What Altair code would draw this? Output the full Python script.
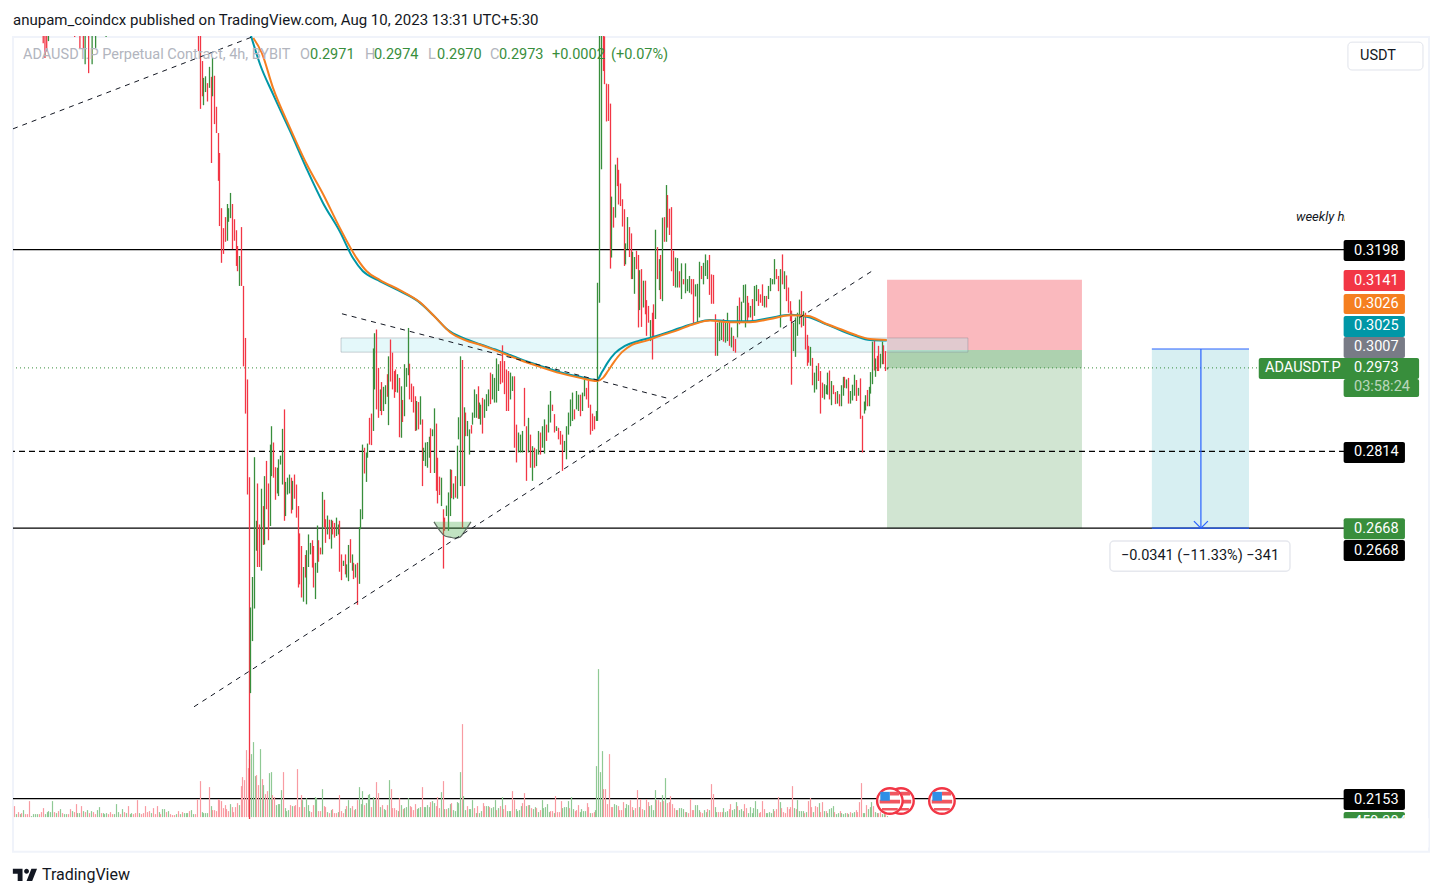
import altair as alt
import numpy as np
import pandas as pd

FONT = "Roboto"
RED, GREEN, TEAL, ORANGE = "#f23645", "#388e3c", "#0097a7", "#f57f20"
RED_V, GREEN_V = "#f89ba2", "#8fc994"
INK, MUTED = "#131722", "#b2b5be"
TICK = 1e-4
Y_DOMAIN = [0.21144, 0.36047]
X_DOMAIN = [-13.07, 114.03]
PX_PER_DAY = 10.48

# axis
price_ticks = [0.35, 0.34, 0.33, 0.32, 0.31, 0.30, 0.29, 0.28, 0.27, 0.26, 0.25, 0.24, 0.23, 0.22]
date_ticks = [0, 11, 30, 46, 61, 74, 92, 102, 112]
date_labels = ["Jun", "12", "Jul", "17", "Aug", "14", "Sep", "11", "21"]

# candles: (high, low, 1 up / 0 down) in ticks of 0.0001
early_no = [17, 18, 19, 20, 35, 38, 40, 41, 43, 45, 47, 53]
early_low = [3591, 3563, 3575, 3595, 3603, 3582, 3580, 3551, 3534, 3551, 3582, 3603]
early_up = [0, 0, 0, 1, 0, 0, 0, 1, 0, 1, 1, 1]

candles_top = [
(3620,3576,0),(3650,3466,0),(3557,3490,0),(3525,3473,1),(3528,3498,1),(3515,3480,0),(3546,3506,1),(3527,3363,0),
(3563,3490,1),(3529,3437,0),(3470,3420,0),(3420,3329,0),(3382,3243,0),(3277,3173,0),(3239,3190,0),(3260,3213,0),
(3285,3215,1),(3277,3251,1),(3306,3258,1),(3285,3199,0),(3256,3215,0),(3235,3167,0),(3205,3157,0),(3186,3129,1),(3241,3129,0),
]
candles_a = [
(3129,2976,0),(3030,2886,0),(2951,2732,0),(2765,2105,0),(2517,2354,1),(2575,2453,1),(2803,2515,1),(2682,2625,1),
(2753,2594,0),(2675,2594,0),(2743,2587,1),(2710,2636,0),(2767,2637,1),(2796,2704,0),(2753,2645,0),(2827,2672,1),
(2862,2767,1),(2831,2764,0),(2784,2722,0),(2783,2734,1),(2799,2729,1),(2806,2789,1),(2857,2751,1),(2894,2682,0),
(2756,2691,1),(2764,2732,1),(2770,2734,1),(2764,2696,0),(2758,2703,1),(2770,2724,0),(2751,2688,0),(2710,2555,0),
(2658,2561,0),(2634,2536,0),(2594,2528,1),(2617,2574,0),(2626,2523,1),(2656,2594,1),(2640,2618,1),(2645,2593,0),
(2634,2555,0),(2602,2533,1),(2673,2583,1),(2645,2604,0),(2631,2618,0),(2737,2618,1),(2722,2670,0),(2685,2640,0),
(2692,2656,1),(2684,2647,0),(2684,2629,1),(2682,2656,0),(2678,2650,0),(2688,2653,1),(2675,2656,1),(2682,2585,0),
(2618,2569,0),(2606,2596,1),(2618,2580,0),(2599,2574,1),(2636,2567,1),(2647,2602,0),(2618,2587,1),(2602,2571,0),
(2599,2574,1),(2602,2522,0),(2670,2562,1),(2704,2666,1),(2827,2685,1),(2821,2772,0),(2812,2756,1),(2829,2802,1),
(2878,2827,0),(2886,2826,0),(3010,2853,1),(3039,2932,1),(3046,2894,0),(2973,2878,0),(2932,2891,1),(2946,2883,0),
(2937,2891,1),(2940,2904,1),(2961,2918,0),(2995,2864,1),(3027,2947,0),(3002,2932,0),(2967,2916,0),(2970,2927,0),
(2961,2926,1),(2954,2841,0),(2938,2840,1),(2912,2870,0),(2980,2881,1),(2973,2937,1),(3049,2959,1),(2981,2913,0),
(2943,2908,0),(2938,2888,0),(2919,2853,0),(2910,2854,1),(2908,2856,0),(2919,2865,1),(2875,2748,0),(2821,2796,1),
(2831,2786,1),(2832,2783,1),(2842,2802,1),(2858,2773,0),(2856,2843,1),(2896,2773,1),(2867,2739,0),(2802,2715,0),
(2766,2731,0),(2764,2710,1),(2704,2591,0),(2688,2663,0),(2711,2691,1),(2736,2663,1),(2780,2691,1),(2779,2725,0),
(2753,2723,1),(2767,2726,0),(2825,2724,1),(2879,2837,1),(2995,2748,1),(2988,2668,0),(2898,2748,1),(2888,2843,0),
(2872,2843,1),(2856,2808,1),(2864,2848,0),(2888,2865,1),(2932,2878,1),(2923,2878,1),(2938,2876,0),(2907,2876,1),
]
candles_b = [
(2903,2865,1),(2916,2848,0),(2913,2878,1),(2923,2891,1),(2932,2900,1),(2964,2904,0),(2961,2913,1),(2954,2907,1),
(2991,2907,1),(2980,2929,1),(2986,2942,0),(3016,2945,0),(2986,2923,0),(2970,2891,0),(2967,2891,0),(2964,2913,1),
(2957,2929,1),(2957,2821,0),(2865,2793,0),(2850,2812,1),(2846,2812,1),(2853,2812,1),(2935,2862,0),(2862,2758,0),
(2878,2812,1),(2846,2783,0),(2824,2758,1),(2821,2783,0),(2818,2786,1),(2853,2808,1),(2850,2808,0),(2862,2821,1),
(2875,2810,1),(2865,2834,0),(2903,2850,1),(2929,2869,1),(2903,2891,0),(2885,2850,0),(2862,2853,1),(2859,2837,0),
(2853,2827,0),(2846,2777,0),(2834,2815,1),(2862,2799,1),(2888,2846,1),(2913,2862,1),(2926,2872,1),(2894,2875,0),
(2929,2894,1),(2922,2891,1),(2922,2881,0),(2926,2891,1),(2951,2919,1),(2935,2913,0),(2948,2897,0),(2903,2846,0),
(2886,2853,0),(2881,2856,0),(2891,2872,1),
]
candles_c1 = [
(3135,2872,1),(3700,3097,1),(3700,3351,1),(3700,3538,0),(3604,3513,0),(3514,3442,0),(3513,3443,0),(3476,3162,0),
(3299,3183,1),(3279,3240,0),(3360,3259,1),(3373,3319,0),(3350,3284,0),(3324,3281,0),(3294,3242,0),(3275,3167,0),
(3210,3170,1),(3260,3199,1),(3241,3184,0),(3229,3142,0),(3194,3142,1),(3184,3114,1),(3196,3161,0),(3188,3050,0),
(3159,3083,1),(3161,3051,0),(3139,3088,1),(3139,3075,0),(3102,3034,0),(3091,3059,0),(3064,3024,1),(3078,2989,0),
(3094,3028,0),(3236,3066,1),(3203,3142,0),(3180,3121,1),(3188,3104,0),(3259,3100,1),(3260,3213,0),(3321,3213,1),
]
candles_c2 = [
(3302,3240,0),(3276,3226,0),(3279,3157,0),(3196,3129,0),(3183,3126,1),(3182,3126,1),(3157,3126,0),(3172,3104,1),
(3142,3132,0),(3172,3115,1),(3142,3119,1),(3148,3116,1),(3142,3113,0),(3142,3058,0),(3132,3109,1),(3133,3059,1),
(3175,3069,1),(3167,3142,0),(3173,3132,1),(3189,3148,1),(3178,3142,1),(3188,3112,0),(3151,3095,0),(3150,3095,0),
(3075,2996,0),(3059,2996,1),(3064,3024,1),(3062,3026,1),(3066,3023,0),(3064,3021,1),(3078,3024,1),(3062,3015,0),
(3050,3012,1),(3034,3005,0),(3028,3002,0),(3091,3031,1),(3107,3056,0),(3099,3059,1),(3131,3097,1),(3132,3050,1),
(3110,3062,0),(3097,3069,0),(3091,3069,1),(3104,3059,0),(3129,3072,1),(3131,3100,1),(3123,3091,0),(3113,3097,0),
(3132,3091,0),(3110,3088,1),(3110,3088,0),(3129,3104,1),(3144,3119,1),(3142,3132,1),(3180,3132,1),(3161,3142,0),
(3148,3119,0),(3161,3050,1),(3189,3132,0),(3157,3123,1),(3149,3100,0),(3126,3078,0),(3100,3062,0),
]
candles_d1 = [
(3082,2941,0),(3059,3005,1),(3069,2994,1),(3078,3034,1),(3103,3056,1),(3119,3050,0),(3081,3053,1),(3078,3008,0),
(3036,2977,0),(3015,2983,0),(3013,2977,1),(2992,2940,0),(2964,2926,1),(2977,2932,1),(2982,2948,0),(2967,2886,0),
(2945,2916,0),(2942,2913,1),(2940,2923,1),(2964,2922,1),(2968,2913,0),(2948,2902,1),(2940,2923,0),(2927,2904,0),
(2929,2905,1),(2923,2900,0),(2940,2900,1),(2956,2920,1),(2956,2935,0),(2951,2934,1),(2954,2905,0),(2929,2905,1),
(2941,2911,1),(2960,2920,1),(2950,2910,0),(2935,2920,1),(2953,2876,0),(2882,2812,0),
]
candles_d2 = [
(2909,2886,1),(2921,2892,1),(2931,2900,0),(2937,2900,1),(2965,2924,1),(3023,2942,1),(3027,2968,0),(2991,2956,1),
(2996,2967,0),(3015,2967,0),(3000,2973,1),(3023,2980,1),(3016,2980,0),(3005,2967,0),(2974,2970,1),
]
# bar time (days since 1 Jun) where each candle section starts and ends
candle_sections = [
    (candles_top, 4.58, 8.68), (candles_a, 8.91, 31.42), (candles_b, 31.49, 42.59),
    (candles_c1, 42.68, 49.2), (candles_c2, 49.38, 61.07), (candles_d1, 61.2, 67.9), (candles_d2, 68.1, 70.3),
]

# volume, in pixels of pane height: + up bar, - down bar
volume_a = [-11,3,-5,3,-4,7,-3,-3,-16,1,3,3,3,-3,-5,-9,3,5,6,5,16,-5,4,-6,8,-4,3,3,-3,-8,6,-5,-13,4,4,-11,6,-5,7,-4,6,-5,-3,7,10,-4,4,3,4,-3,-5,-3,3,13,5,-3,8,-5,4,-11,3,4,-3,-4,-17,4,-3,-4,-11,-5,-6,4,-9,-3,-11,5,-3,8,8,-5,6,-3,-2,-2,3,-6,3,-5,4,4,4,-6,7,3,-3,-18]
volume_b = [-36,5,4,4,4,-30,11,-7,-7,-6,-18,-17,-16,-9,-12,-8,-6,13,-10,-5,-10,-14,12,-31,-40,-37,-67,-49,58,63,75,41,-42,-32,68,-38,32,-23,-26,44,45,-22,-20,12,13,13,27,-45,9,6,7,-12,11,-11,-12,-48,-10,-22,17,-10,19,12,6,-5,-12,20,19,-6,-6,28,-11,-10,5,-4,7,-8,-4,-4,5,-22,-6,-4,8,-11,17,9,-11,-7,8,-17,30,13,26,-12,14,22,23,-10,20,17,-35,-24,10,-12,8,7,-12,37,-28,-9,-9,-7,6,-19]
volume_c = [12,-8,9,10,19,-11,-10,-7,-13,8,9,10,-30,10,10,12,10,-15,16,14,-11,-20,-9,25,-36,8,-8,9,13,-14,7,6,15,14,45,-93,21,7,-11,8,8,17,-9,4,-11,4,6,-14,-11,11,11,-10,9,10,17,-7,9,-11,20,-8,-12,6,6,6,-26,-17,8,6,7,11,-14,-24,11,-12,12,-9,8,10,-9,5,-7,17,9,10,13,5,-6,-6,4,-21,-5,-5,-16,9,10,10,16,-9,20,8,-6,-7,-12,5,8,6,6,-14,-10,4,-4,-5,7]
volume_d = [51,148,45,66,-28,-28,-13,-63,-10,-10,13,12,-11,-7,-7,-15,9,13,12,-17,-10,7,-9,-27,10,-18,-8,7,-18,-15,11,12,7,27,-17,-17,-15,22,-16,39,-14,-15,-21,-13,-9,7,-7,9,9,8,-5,5,-4,-18,-7,-7,12,12,7,-5,-4,7,5,-8,7,-33,-23,10,5,-5,-5,-5,9,5,6,-8,-13,7,8,15,-11,7,8,6,-13,-9,4,10,4,9,16,8,-4,-5,-16,-8,4,4,5,4,8,-6,-8,-20,15,-9,-5,-4,-10,-8,-10,-31,9,-8,17,6,6,6,-4,5,-16,-19,-10,5,-11,-10,14,-5,-15,6,-6,4,8,9,11,-5,3,4,-6,4,3,4,-4,3,-5,4,5,-7,-5,-15,-34,4,4,-12,8,10,15,-11,5,4,-4,-5,3,3,-3,1]
volume_sections = [(volume_a, -13.0, 4.5), (volume_b, 4.77, 23.8), (volume_c, 23.95, 42.5), (volume_d, 42.6, 70.35)]

# moving averages
ma_orange_day = [9.86,10.66,11.74,13.36,14.95,16.51,18.13,19.72,20.68,21.95,23.85,25.76,27.29,28.63,30.06,31.49,33.4,35.31,37.21,39.12,41.03,42.65,43.23,43.7,44.27,45.04,45.99,47.23,48.66,50.1,52,53.44,55.34,57.25,59.16,61.07,62.79,64.4,65.84,67.27,68.7,70.3]
ma_orange = [3601,3573,3506,3430,3361,3304,3239,3182,3157,3140,3121,3098,3068,3041,3026,3017,3003,2988,2975,2963,2954,2948,2954,2967,2984,3003,3017,3024,3034,3043,3057,3063,3060,3060,3066,3073,3072,3058,3047,3036,3028,3026]
ma_teal_day = [9.64,10.5,11.74,13.36,14.95,16.51,18.13,19.37,20.32,21.76,23.66,25.57,27.1,28.44,29.87,31.49,33.4,35.31,37.21,39.12,41.03,42.65,43.13,43.7,44.37,45.32,46.56,47.71,49.14,50.57,52,53.44,55.34,57.25,59.16,61.07,62.79,64.4,65.84,67.27,68.7,70.3]
ma_teal = [3605,3551,3494,3424,3352,3287,3232,3182,3157,3140,3121,3100,3072,3045,3030,3018,3005,2990,2977,2965,2956,2950,2965,2984,3001,3015,3024,3030,3039,3049,3058,3064,3062,3062,3068,3074,3070,3057,3045,3034,3026,3025]

# drawings
levels_solid = [0.3198, 0.2668, 0.2153]
level_dashed = 0.2814
last_price = 0.2973
trend_lines = [
    ("t1", [-13.07, 10.02], [3428, 3605]),
    ("t2", [18.32, 49.62], [3076, 2914]),
    ("t3", [4.2, 69.18], [2328, 3161]),
]
arc_day = [27.1, 27.67, 28.15, 28.63, 29.1, 29.58, 30.06, 30.63]
arc_low = [2680, 2663, 2653, 2651, 2649, 2651, 2663, 2680]
arc_top = 2680

# tags: label, text centre, tag top, tag bottom, left day, right day, fill
tags = [
    ("0.3198", 3196, 3216.4, 3176.4, 113.9, 119.75, "#000000"),
    ("0.3141", 3139, 3159.3, 3119.3, 113.9, 119.75, RED),
    ("0.3026", 3095, 3113.6, 3075.6, 113.9, 119.75, ORANGE),
    ("0.3025", 3052, 3071.8, 3031.8, 113.9, 119.75, TEAL),
    ("0.3007", 3012, 3031.8, 2991.8, 113.9, 119.75, "#787b86"),
    ("0.2973", 2972, 2991.8, 2951.8, 105.8, 121.1, GREEN),
    ("03:58:24", 2937, 2951.8, 2917.6, 113.9, 121.1, GREEN),
    ("0.2814", 2812, 2832, 2792, 113.9, 119.75, "#000000"),
    ("0.2668", 2667, 2687, 2647, 113.9, 119.75, GREEN),
    ("0.2668", 2625, 2645.4, 2605.4, 113.9, 119.75, "#000000"),
    ("0.2153", 2151.5, 2171.5, 2131.5, 113.9, 119.75, "#000000"),
    ("459.304K", 2109, 2127.7, 2091.6, 113.9, 119.75, GREEN),
]
legend_texts = [
    (-12.12, "ADAUSDT.P Perpetual Contract, 4h, BYBIT", MUTED), (14.31, "O", MUTED), (15.27, "0.2971", GREEN),
    (20.52, "H", MUTED), (21.37, "0.2974", GREEN), (26.53, "L", MUTED), (27.39, "0.2970", GREEN),
    (32.44, "C", MUTED), (33.3, "0.2973", GREEN), (38.36, "+0.0002", GREEN), (43.99, "(+0.07%)", GREEN),
]
flag_days = [75.57, 71.66, 70.6]
flag_price = 2148.6

XS = alt.Scale(domain=X_DOMAIN, nice=False, zero=False)
YS = alt.Scale(domain=Y_DOMAIN, nice=False, zero=False)
def X(f="x"): return alt.X(f"{f}:Q", scale=XS, axis=None)
def Y(f="y"): return alt.Y(f"{f}:Q", scale=YS, axis=None)

def place(n, start, end):
    """Bar times for a section, set on whole device pixels so hairline bars stay crisp."""
    days = np.linspace(start, end, n)
    px = np.round((days - X_DOMAIN[0]) * PX_PER_DAY) + 0.5
    return X_DOMAIN[0] + px / PX_PER_DAY

def rect(rows, **mark):
    df = pd.DataFrame(rows, columns=["x", "x2", "y", "y2"])
    df[["y", "y2"]] *= TICK
    return alt.Chart(df).mark_rect(**mark).encode(X(), x2="x2:Q", y=Y(), y2="y2:Q")

def label(x, y, text, color=INK, size=14.5, align="left", **mark):
    df = pd.DataFrame({"x": [x], "y": [y * TICK], "t": [text]})
    return alt.Chart(df).mark_text(font=FONT, fontSize=size, color=color, align=align, baseline="middle", **mark).encode(X(), Y(), text="t:N")

# axes layer
axis_df = pd.DataFrame({"x": [0.0], "y": [0.3]})
axes = alt.Chart(axis_df).mark_point(opacity=0).encode(
    x=alt.X("x:Q", scale=XS, title=None, axis=alt.Axis(
        values=date_ticks, grid=False, domain=False, ticks=False, labelPadding=9, labelFontSize=14, labelFont=FONT,
        labelColor=MUTED, labelOverlap=False, labelFlush=False, labelBound=False,
        labelExpr="[" + ",".join(f"'{d}'" for d in date_labels) + "][indexof(" + str(date_ticks) + ", datum.value)]",
        labelFontWeight={"condition": {"test": "indexof([0,30,61,92], datum.value) >= 0", "value": "bold"}, "value": "normal"})),
    y=alt.Y("y:Q", scale=YS, title=None, axis=alt.Axis(
        orient="right", values=price_ticks, format=".4f", grid=False, domain=False, ticks=False, labelPadding=9,
        labelFontSize=14.5, labelFont=FONT, labelColor=MUTED, labelBound=False, labelOverlap=False)),
)

frame = rect([(-13.07, 122.04, 3603, 2052)], fillOpacity=0, stroke="#f0f3fa", strokeWidth=2)
stop_zone = rect([(70.33, 88.93, 3141, 3007)], color=RED, opacity=0.35)
target_zone = rect([(70.33, 88.93, 3007, 2668)], color=GREEN, opacity=0.23)
open_pnl = rect([(70.33, 88.93, 3007, 2973)], color=GREEN, opacity=0.23)
sup_zone = rect([(18.23, 78.05, 3030, 3003)], fill="#b2ebf2", fillOpacity=0.35, stroke="#787b86", strokeOpacity=0.35, strokeWidth=1)
measure = rect([(95.6, 104.87, 3009, 2668)], color="#d7eff2")

def hline(p, **kw):
    return alt.Chart(pd.DataFrame({"y": p})).mark_rule(**kw).encode(Y())

solid_lines = hline(levels_solid, color="#000000", strokeWidth=1.2)
dashed_line = hline([level_dashed], color="#000000", strokeWidth=1.2, strokeDash=[6, 4])
dotted_line = hline([last_price], color=GREEN, strokeWidth=1, strokeDash=[1, 3])

trend_rows = [dict(k=k, x=a, y=b * TICK) for k, xs, ps in trend_lines for a, b in zip(xs, ps)]
trends = alt.Chart(pd.DataFrame(trend_rows)).mark_line(color="#131722", strokeWidth=1, strokeDash=[5, 5], clip=True).encode(X(), Y(), detail="k:N")

# candles
rows = []
for no, lo, up in zip(early_no, early_low, early_up):
    rows.append(dict(x=-13.07 + (no + 0.3) / 6, hi=0.37, lo=lo * TICK, c=GREEN if up else RED))
for data, start, end in candle_sections:
    for d, (hi, lo, up) in zip(place(len(data), start, end), data):
        rows.append(dict(x=float(d), hi=hi * TICK, lo=lo * TICK, c=GREEN if up else RED))
candle_layer = alt.Chart(pd.DataFrame(rows)).mark_rule(strokeWidth=1.3, clip=True).encode(
    X(), Y("hi"), y2="lo:Q", color=alt.Color("c:N", scale=None))

# volume pane: one height unit = one pixel of the price scale
VOL_BASE = 0.2118
VOL_UNIT = (Y_DOMAIN[1] - Y_DOMAIN[0]) / 783
vrows = []
for data, start, end in volume_sections:
    for d, v in zip(place(len(data), start, end), data):
        vrows.append(dict(x=float(d), top=VOL_BASE + abs(v) * VOL_UNIT, base=VOL_BASE, c=GREEN_V if v > 0 else RED_V))
vol_layer = alt.Chart(pd.DataFrame(vrows)).mark_rule(strokeWidth=1.2).encode(
    X(), Y("top"), y2="base:Q", color=alt.Color("c:N", scale=None))

def ma(days, vals, color):
    df = pd.DataFrame({"x": days, "y": np.array(vals) * TICK})
    return alt.Chart(df).mark_line(color=color, strokeWidth=2, clip=True, interpolate="monotone").encode(X(), Y())

arc_df = pd.DataFrame({"x": arc_day, "y": np.array(arc_low) * TICK, "y2": arc_top * TICK})
arc_fill = alt.Chart(arc_df).mark_area(color="#4caf50", opacity=0.35, interpolate="monotone").encode(X(), Y(), y2="y2:Q")
arc_edge = alt.Chart(arc_df).mark_line(color="#5d6b60", strokeWidth=1.2, interpolate="monotone").encode(X(), Y())

m_df = pd.DataFrame({"x": [95.6, 95.6, 100.28], "x2": [104.87, 104.87, 100.28], "y": [0.3009, 0.2668, 0.3009], "y2": [0.3009, 0.2668, 0.2668]})
m_lines = alt.Chart(m_df).mark_rule(color="#2962ff", strokeWidth=1.2).encode(X(), x2="x2:Q", y=Y(), y2="y2:Q")
m_head = alt.Chart(pd.DataFrame({"x": [100.28], "y": [0.2668]})).mark_point(
    shape="M-1,-1L0,0L1,-1", size=196, filled=False, color="#2962ff", strokeWidth=1.2, opacity=1).encode(X(), Y())
m_box = rect([(91.6, 108.78, 2643.5, 2586)], fill="#ffffff", stroke="#e6e8ee", strokeWidth=1.5, cornerRadius=4)
m_text = label(100.19, 2615, "\u22120.0341 (\u221211.33%) \u2212341", align="center")

# price tags
tag_df = pd.DataFrame(tags, columns=["t", "c", "top", "bot", "x", "x2", "fill"])
for col in ("c", "top", "bot"):
    tag_df[col] = tag_df[col] * TICK
tag_rects = alt.Chart(tag_df).mark_rect(cornerRadius=2).encode(X(), x2="x2:Q", y=Y("top"), y2="bot:Q", color=alt.Color("fill:N", scale=None))
tag_df["tx"] = 114.89
tag_df["op"] = [0.65 if t == "03:58:24" else 1 for t in tag_df["t"]]
tag_text = alt.Chart(tag_df).mark_text(font=FONT, fontSize=14.5, color="#ffffff", align="left", baseline="middle").encode(
    X("tx"), Y("c"), text="t:N", opacity=alt.Opacity("op:Q", scale=None))
tag_name = label(106.4, 2972, "ADAUSDT.P", color="#ffffff")
tag_cover = rect([(113.5, 122, 2116, 2060)], color="#ffffff")

# flags
flag_df = pd.DataFrame({"x": flag_days, "y": flag_price * TICK})
flag_layers = []
for i in range(len(flag_days)):
    one = flag_df.iloc[[i]]
    flag_layers += [
        alt.Chart(one).mark_point(shape="circle", size=650, filled=True, fill="#ffffff", stroke=RED, strokeWidth=2.4, opacity=1).encode(X(), Y()),
        alt.Chart(one).mark_point(shape="M0,-0.72H0.72V-0.44H0ZM-0.8,-0.1H0.8V0.2H-0.8ZM-0.62,0.55H0.62V0.75H-0.62Z", size=650, filled=True, color="#f0565f", opacity=1).encode(X(), Y()),
        alt.Chart(one).mark_point(shape="M-0.75,-0.72H0V-0.02H-0.75Z", size=650, filled=True, color="#2f8fe6", opacity=1).encode(X(), Y()),
    ]

button = rect([(114.31, 121.47, 3593, 3540)], fill="#ffffff", stroke="#e0e3eb", strokeWidth=1, cornerRadius=4)
button_text = label(115.46, 3566.6, "USDT")
weekly = alt.Chart(pd.DataFrame({"x": [109.35], "y": [0.326], "t": ["weekly high"]})).mark_text(
    font=FONT, fontSize=13, fontStyle="italic", color=INK, align="left", baseline="middle", clip=True).encode(X(), Y(), text="t:N")
header = label(-13.07, 3635, "anupam_coindcx published on TradingView.com, Aug 10, 2023 13:31 UTC+5:30", size=15)
logo_text = label(-10.31, 2008, "TradingView", size=16)
logo = alt.Chart(pd.DataFrame({"x": [-11.93], "y": [0.2008]})).mark_point(
    shape="M-3 -7.5H-15v6h6v9h6V-7.5zm12 15h-7l6-15h7l-6 15zm-7-9a3 3 0 1 0 0-6 3 3 0 0 0 0 6z",
    size=2.6, filled=True, color=INK, opacity=1).encode(X(), Y())
legend_layers = [label(x, 3568.5, t, color=c) for x, t, c in legend_texts]

chart = alt.layer(
    axes, frame, stop_zone, target_zone, open_pnl, sup_zone, measure,
    solid_lines, dashed_line, dotted_line, vol_layer, candle_layer, arc_fill, arc_edge,
    ma(ma_teal_day, ma_teal, TEAL), ma(ma_orange_day, ma_orange, ORANGE),
    trends, m_lines, m_head, m_box, m_text, *flag_layers,
    tag_rects, tag_text, tag_name, tag_cover, button, button_text, weekly, header, logo_text, logo, *legend_layers,
).properties(
    width=1332, height=783,
    padding={"left": 5, "top": 28, "right": 89, "bottom": 64},
    autosize=alt.AutoSizeParams(type="none", contains="content"),
    background="#ffffff",
).configure_view(stroke=None)

chart.save("out.html", embed_options={"renderer": "svg", "actions": False})
